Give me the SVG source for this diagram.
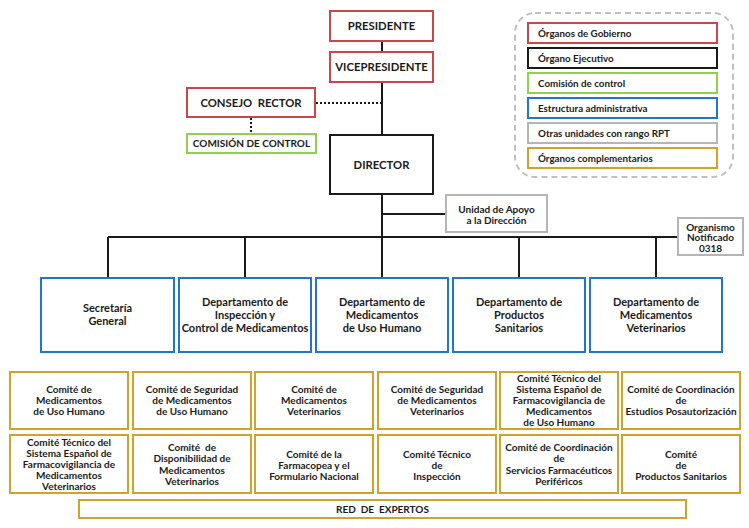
<svg xmlns="http://www.w3.org/2000/svg" width="749" height="528" viewBox="0 0 749 528">
<style>
text{font-family:Lato,"Liberation Sans",sans-serif;font-weight:bold;fill:#1a1a1a;text-anchor:middle;white-space:pre}
.t11{font-size:11.3px}
.t10{font-size:10px}
.td{font-size:11px}
.t9{font-size:10px}
.lg{text-anchor:start;font-size:9.8px}
rect{fill:#fff;stroke-width:2}
.gov{stroke:#c9474b}
.exe{stroke:#1a1a1a}
.ctl{stroke:#8fd14f}
.adm{stroke:#1f77c9}
.rpt{stroke:#b5b5b5}
.cmp{stroke:#d4a22a}
.ln{stroke:#1a1a1a;stroke-width:2;fill:none}
.dot{stroke:#1a1a1a;stroke-width:2;stroke-dasharray:2,2;fill:none}
</style>
<rect width="749" height="528" style="fill:#fff;stroke:none"/>
<g id="connectors">
<path class="ln" d="M382 41V52M382 82V135M382 195V237M382 214H446M108 237H678M108 237V278M245 237V278M382 237V278M519 237V278M656 237V278"/>
<path class="dot" d="M316 103H381M251 118V134"/>
</g>
<g id="legend">
<rect x="515" y="13" width="218" height="164" rx="20" style="fill:none;stroke:#c0c0c0;stroke-width:2;stroke-dasharray:6,4"/>
<rect class="gov" x="528" y="23" width="189" height="20"/><text class="lg" x="538" y="36.5">Órganos de Gobierno</text>
<rect class="exe" x="528" y="48" width="189" height="20"/><text class="lg" x="538" y="61.5">Órgano Ejecutivo</text>
<rect class="ctl" x="528" y="73" width="189" height="20"/><text class="lg" x="538" y="86.5">Comisión de control</text>
<rect class="adm" x="528" y="98" width="189" height="20"/><text class="lg" x="538" y="111.5">Estructura administrativa</text>
<rect class="rpt" x="528" y="123" width="189" height="20"/><text class="lg" x="538" y="136.5">Otras unidades con rango RPT</text>
<rect class="cmp" x="528" y="148" width="189" height="20"/><text class="lg" x="538" y="161.5">Órganos complementarios</text>
</g>
<g id="presidente"><rect class="gov" x="330" y="11" width="103" height="30"/><text class="t11" x="381.5" y="30">PRESIDENTE</text></g>
<g id="vicepresidente"><rect class="gov" x="330" y="52" width="103" height="30"/><text class="t11" x="381.5" y="71">VICEPRESIDENTE</text></g>
<g id="consejo"><rect class="gov" x="187" y="88" width="128" height="29"/><text class="t11" x="251" y="106.5">CONSEJO  RECTOR</text></g>
<g id="comision"><rect class="ctl" x="187" y="134" width="129" height="19"/><text class="t10" x="251.5" y="147">COMISIÓN DE CONTROL</text></g>
<g id="director"><rect class="exe" x="330" y="135" width="103" height="59"/><text class="t11" x="381.5" y="169">DIRECTOR</text></g>
<g id="unidad"><rect class="rpt" x="446" y="195" width="101" height="37"/><text class="t9"><tspan x="496.5" y="212.5">Unidad de Apoyo</tspan><tspan x="496.5" y="223.5">a la Dirección</tspan></text></g>
<g id="organismo"><rect class="rpt" x="678" y="218" width="65" height="37"/><text class="t9"><tspan x="710.5" y="230.5">Organismo</tspan><tspan x="710.5" y="241">Notificado</tspan><tspan x="710.5" y="251.5">0318</tspan></text></g>
<g id="secretaria"><rect class="adm" x="41" y="278" width="133" height="74"/><text class="td"><tspan x="107.5" y="312">Secretaría</tspan><tspan x="107.5" y="325">General</tspan></text></g>
<g id="dep-inspeccion"><rect class="adm" x="179" y="278" width="132" height="74"/><text class="td"><tspan x="245" y="305.5">Departamento de</tspan><tspan x="245" y="318.5">Inspección y</tspan><tspan x="245" y="331.5">Control de Medicamentos</tspan></text></g>
<g id="dep-humano"><rect class="adm" x="316" y="278" width="132" height="74"/><text class="td"><tspan x="382" y="305.5">Departamento de</tspan><tspan x="382" y="318.5">Medicamentos</tspan><tspan x="382" y="331.5">de Uso Humano</tspan></text></g>
<g id="dep-productos"><rect class="adm" x="453" y="278" width="132" height="74"/><text class="td"><tspan x="519" y="305.5">Departamento de</tspan><tspan x="519" y="318.5">Productos</tspan><tspan x="519" y="331.5">Sanitarios</tspan></text></g>
<g id="dep-veterinarios"><rect class="adm" x="590" y="278" width="132" height="74"/><text class="td"><tspan x="656" y="305.5">Departamento de</tspan><tspan x="656" y="318.5">Medicamentos</tspan><tspan x="656" y="331.5">Veterinarios</tspan></text></g>
<g id="c1"><rect class="cmp" x="10" y="372" width="118" height="57"/><text class="t9"><tspan x="69" y="392.5">Comité de</tspan><tspan x="69" y="403.5">Medicamentos</tspan><tspan x="69" y="414.5">de Uso Humano</tspan></text></g>
<g id="c2"><rect class="cmp" x="133" y="372" width="118" height="57"/><text class="t9"><tspan x="192" y="392.5">Comité de Seguridad</tspan><tspan x="192" y="403.5">de Medicamentos</tspan><tspan x="192" y="414.5">de Uso Humano</tspan></text></g>
<g id="c3"><rect class="cmp" x="255" y="372" width="118" height="57"/><text class="t9"><tspan x="314" y="392.5">Comité de</tspan><tspan x="314" y="403.5">Medicamentos</tspan><tspan x="314" y="414.5">Veterinarios</tspan></text></g>
<g id="c4"><rect class="cmp" x="378" y="372" width="118" height="57"/><text class="t9"><tspan x="437" y="392.5">Comité de Seguridad</tspan><tspan x="437" y="403.5">de Medicamentos</tspan><tspan x="437" y="414.5">Veterinarios</tspan></text></g>
<g id="c5"><rect class="cmp" x="500" y="372" width="118" height="57"/><text class="t9"><tspan x="559" y="381.5">Comité Técnico del</tspan><tspan x="559" y="392.5">Sistema Español de</tspan><tspan x="559" y="403.5">Farmacovigilancia de</tspan><tspan x="559" y="414.5">Medicamentos</tspan><tspan x="559" y="425.5">de Uso Humano</tspan></text></g>
<g id="c6"><rect class="cmp" x="622" y="372" width="118" height="57"/><text class="t9"><tspan x="681" y="392.5">Comité de Coordinación</tspan><tspan x="681" y="403.5">de</tspan><tspan x="681" y="414.5">Estudios Posautorización</tspan></text></g>
<g id="c7"><rect class="cmp" x="10" y="435" width="118" height="58"/><text class="t9"><tspan x="69" y="445.5">Comité Técnico del</tspan><tspan x="69" y="456.5">Sistema Español de</tspan><tspan x="69" y="467.5">Farmacovigilancia de</tspan><tspan x="69" y="478.5">Medicamentos</tspan><tspan x="69" y="489.5">Veterinarios</tspan></text></g>
<g id="c8"><rect class="cmp" x="133" y="435" width="118" height="58"/><text class="t9"><tspan x="192" y="450.5">Comité  de</tspan><tspan x="192" y="462">Disponibilidad de</tspan><tspan x="192" y="473.5">Medicamentos</tspan><tspan x="192" y="485">Veterinarios</tspan></text></g>
<g id="c9"><rect class="cmp" x="255" y="435" width="118" height="58"/><text class="t9"><tspan x="314" y="457.5">Comité de la</tspan><tspan x="314" y="468.5">Farmacopea y el</tspan><tspan x="314" y="479.5">Formulario Nacional</tspan></text></g>
<g id="c10"><rect class="cmp" x="378" y="435" width="118" height="58"/><text class="t9"><tspan x="437" y="457.5">Comité Técnico</tspan><tspan x="437" y="468.5">de</tspan><tspan x="437" y="479.5">Inspección</tspan></text></g>
<g id="c11"><rect class="cmp" x="500" y="435" width="118" height="58"/><text class="t9"><tspan x="559" y="450.5">Comité de Coordinación</tspan><tspan x="559" y="462">de</tspan><tspan x="559" y="473.5">Servicios Farmacéuticos</tspan><tspan x="559" y="485">Periféricos</tspan></text></g>
<g id="c12"><rect class="cmp" x="622" y="435" width="118" height="58"/><text class="t9"><tspan x="681" y="457.5">Comité</tspan><tspan x="681" y="468.5">de</tspan><tspan x="681" y="479.5">Productos Sanitarios</tspan></text></g>
<g id="red"><rect class="cmp" x="79" y="500" width="607" height="18"/><text class="t10" x="382.5" y="512.5">RED  DE  EXPERTOS</text></g>
</svg>
